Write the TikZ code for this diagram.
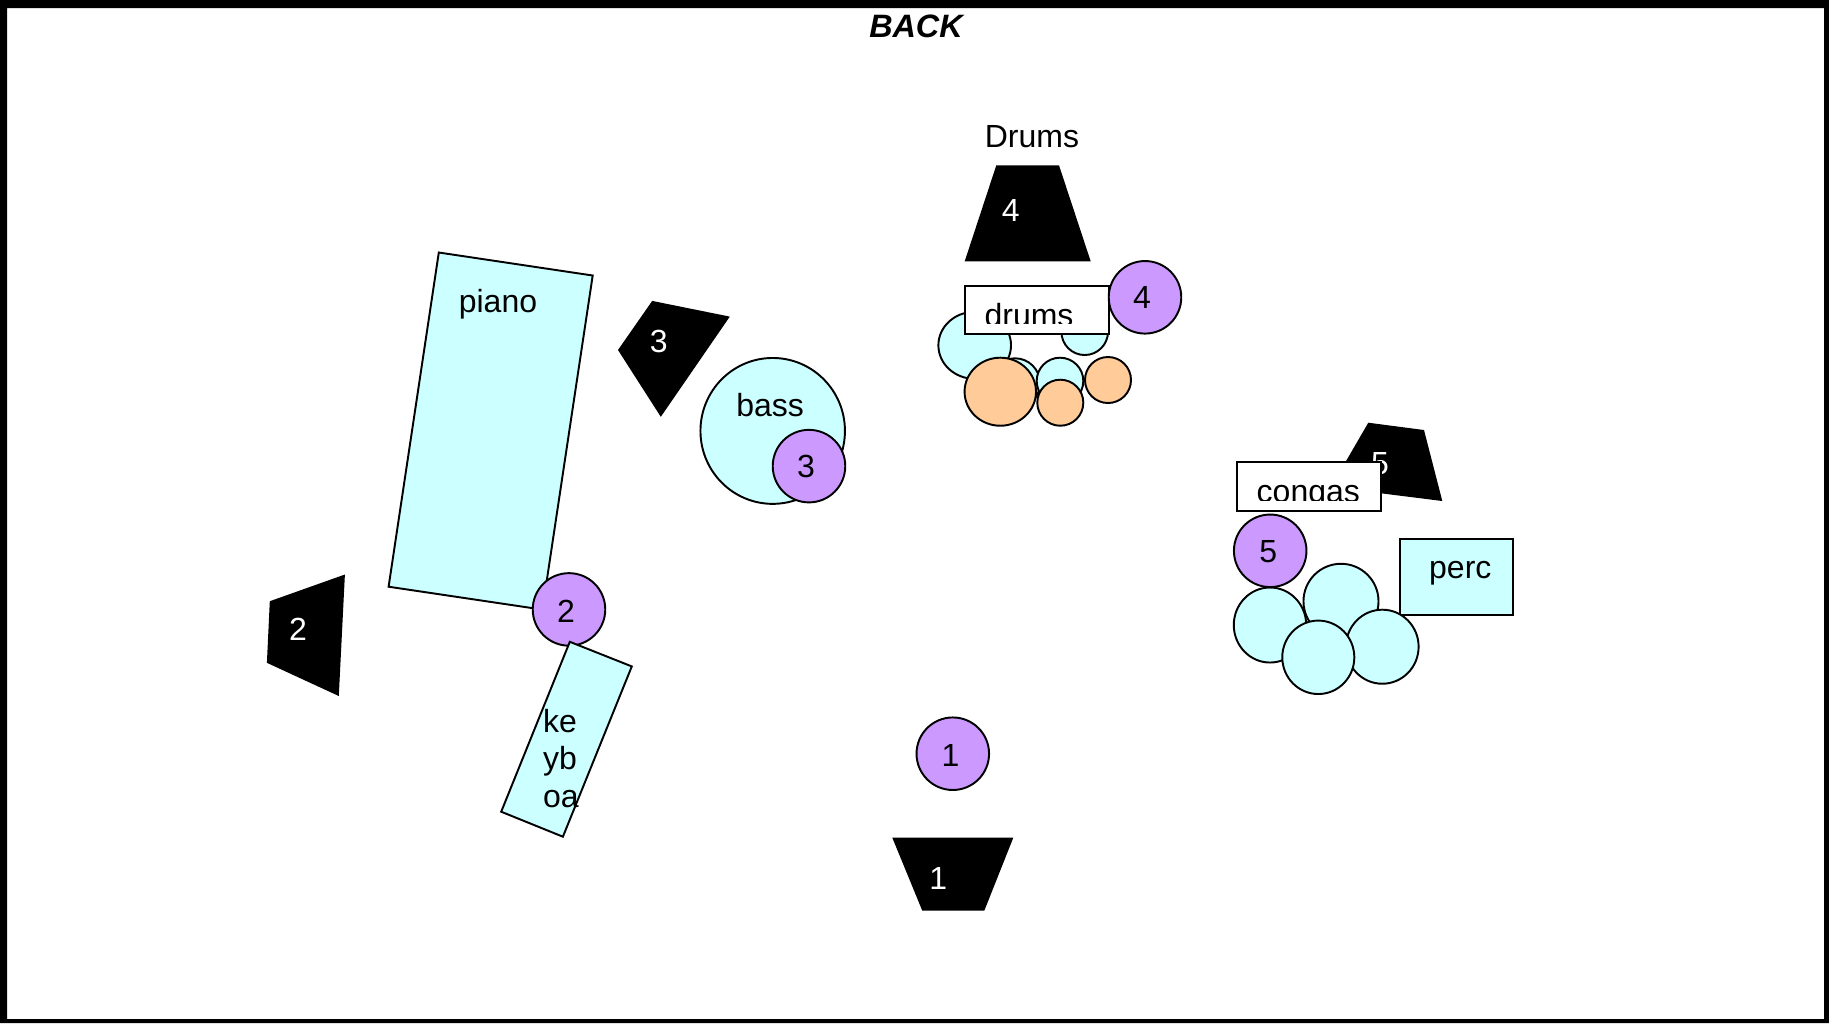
\documentclass[tikz,border=0pt]{standalone}
\usepackage{fontspec}
\setmainfont{Liberation Sans}
\usetikzlibrary{shapes}
\definecolor{kitcyan}{HTML}{CCFFFF}
\definecolor{spotpurple}{HTML}{CC99FF}
\definecolor{kitorange}{HTML}{FFCC99}
\tikzset{
  every node/.style={font=\fontsize{9.1}{10.55}\selectfont,inner sep=0pt},
  kit/.style={draw,ellipse,fill=kitcyan,line width=0.55pt},
  shell/.style={draw,ellipse,fill=kitorange,line width=0.55pt},
  spot/.style={draw,circle,fill=spotpurple,line width=0.55pt,minimum size=0.725cm},
  tag/.style={draw,rectangle,fill=white,line width=0.55pt},
  wedge/.style={fill=black},
  plate/.style={draw,fill=kitcyan,line width=0.55pt}
}
\begin{document}
\begin{tikzpicture}[x=0.01cm,y=-0.01cm]
  \useasboundingbox (0,0) rectangle (1829,1023);
  \fill[black,even odd rule] (0,0) rectangle (1829,1023) (7,8) rectangle (1824,1019);
  \node[font=\fontsize{9.2}{11}\selectfont\bfseries\itshape] (back) at (916,26) {BACK};
  % monitors
  \fill[wedge] (892.3,837.7) -- (1013.3,837.7) -- (984.3,910.7) -- (922.3,910.7) -- cycle;
  \node[white] (mon1) at (938.3,878.3) {1};
  \fill[wedge] (344.9,574.5) -- (338.8,696) -- (266.9,662.8) -- (269.8,601.2) -- cycle;
  \node[white] (mon2) at (298,629.8) {2};
  \fill[wedge] (652.2,300.9) -- (729.8,316.6) -- (660.8,416.8) -- (618,350) -- cycle;
  \node[white] (mon3) at (658.8,341.9) {3};
  \fill[wedge] (996.3,165.3) -- (1059,165.3) -- (1090.7,261.3) -- (964.7,261.3) -- cycle;
  \node[white] (mon4) at (1010.7,210) {4};
  \fill[wedge] (1368.3,422.7) -- (1424,430) -- (1442.3,501) -- (1331,487) -- cycle;
  \node[white] (mon5) at (1380,464) {5};
  \node[anchor=base] (drumsTitle) at (1032,147) {Drums};
  % piano and keyboard
  \draw[plate] (438.8,252.5) -- (592.7,275.5) -- (542.4,609.6) -- (388.6,586.7) -- cycle;
  \node[anchor=base] (piano) at (498,312.5) {piano};
  \node[spot] (spot2) at (569,609.4) {};
  \node (num2) at (566,611.2) {2};
  \draw[plate] (569.8,641.8) -- (631.8,666.4) -- (562.9,836.7) -- (501.2,811.7) -- cycle;
  \node[align=left] (keyboard) at (560.8,758.5) {ke\\yb\\oa};
  % bass
  \node[kit,minimum width=1.444cm,minimum height=1.458cm] (bass) at (772.7,430.9) {};
  \node[anchor=base] (bassText) at (770.2,416) {bass};
  \node[spot] (spot3) at (809,466.1) {};
  \node (num3) at (806,466.7) {3};
  % drums
  \node[kit,minimum width=0.726cm,minimum height=0.67cm] (tom1) at (974.7,345.3) {};
  \node[kit,minimum size=0.466cm] (tom2) at (1084.7,331.7) {};
  \node[kit,minimum size=0.5cm] (tom3) at (1015,383.3) {};
  \node[kit,minimum size=0.466cm] (tom4) at (1060,381) {};
  \node[shell,minimum width=0.714cm,minimum height=0.68cm] (kick) at (1000.3,391.7) {};
  \node[shell,minimum size=0.46cm] (snare) at (1060.3,402.7) {};
  \node[shell,minimum size=0.46cm] (hat) at (1108,380) {};
  \node[tag,minimum width=1.443cm,minimum height=0.48cm] (drumsBox) at (1037.2,309.7) {};
  \begin{scope}
    \clip (965,285.7) rectangle (1109.3,323.5);
    \node[anchor=base] (drums) at (1029,326) {drums};
  \end{scope}
  \node[spot] (spot4) at (1145,297.3) {};
  \node (num4) at (1142,297) {4};
  % percussion
  \node[kit,minimum size=0.75cm] (conga2) at (1341,601.3) {};
  \node[kit,minimum width=0.724cm,minimum height=0.75cm] (conga1) at (1270,625) {};
  \node[plate,rectangle,minimum width=1.133cm,minimum height=0.757cm] (percBox) at (1456.7,577.2) {};
  \node[anchor=base] (perc) at (1460.3,578.3) {perc};
  \node[kit,minimum width=0.726cm,minimum height=0.74cm] (conga3) at (1382.3,646.7) {};
  \node[kit,minimum width=0.72cm,minimum height=0.734cm] (conga4) at (1318.3,657.3) {};
  \node[tag,minimum width=1.44cm,minimum height=0.49cm] (congasBox) at (1308.7,486.5) {};
  \begin{scope}
    \clip (1236.7,462) rectangle (1380.7,500.5);
    \node[anchor=base] (congas) at (1308.3,502) {congas};
  \end{scope}
  \node[spot] (spot5) at (1270.2,550.8) {};
  \node (num5) at (1268.3,551.7) {5};
  % front
  \node[spot] (spot1) at (952.8,753.7) {};
  \node (num1) at (950.5,755) {1};
\end{tikzpicture}
\end{document}
